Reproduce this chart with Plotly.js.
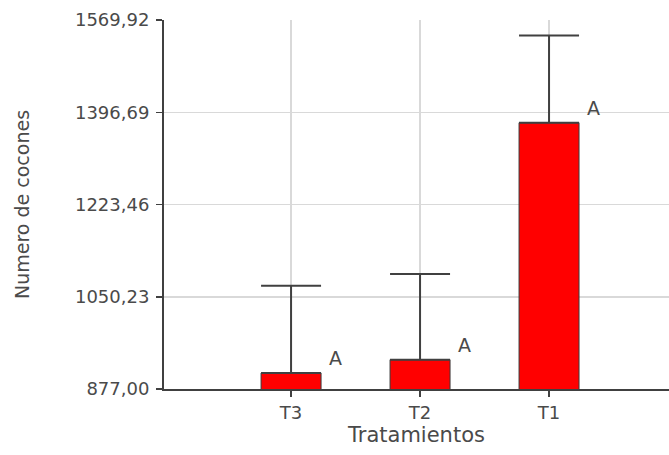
<!DOCTYPE html>
<html>
<head>
<meta charset="utf-8">
<script src="https://cdn.plot.ly/plotly-3.0.1.min.js"></script>
<style>
  html, body { margin: 0; padding: 0; background: #ffffff; }
  #chart { width: 669px; height: 455px; }
</style>
</head>
<body>
<div id="chart"></div>
<script>
// ---- data ----
const categories = ["T3", "T2", "T1"];
const means = [907, 932, 1377];
const errorsUp = [164, 161, 164];
const letters = ["A", "A", "A"];
const yTickVals = [877.00, 1050.23, 1223.46, 1396.69, 1569.92];
const yTickText = ["877,00", "1050,23", "1223,46", "1396,69", "1569,92"];
const xTitle = "Tratamientos";
const yTitle = "Numero de cocones";

const axisColor = "#404040";
const textColor = "#4a4a4a";
const fontFamily = "DejaVu Sans, Arial, sans-serif";

const trace = {
  type: "bar",
  x: categories,
  y: means,
  width: 0.465,
  marker: { color: "#ff0000", line: { color: "#3a3a3a", width: 1 } },
  error_y: {
    type: "data",
    symmetric: false,
    array: errorsUp,
    arrayminus: categories.map(() => 0),
    color: axisColor,
    thickness: 2,
    width: 30
  },
  hoverinfo: "skip"
};

const annotations = categories.map((c, i) => ({
  x: c,
  y: means[i],
  xref: "x",
  yref: "y",
  text: letters[i],
  showarrow: false,
  xshift: 44,
  yshift: 15,
  font: { family: fontFamily, size: 19, color: textColor }
}));

const layout = {
  width: 669,
  height: 455,
  margin: { l: 164, r: 0, t: 20, b: 66 },
  paper_bgcolor: "#ffffff",
  plot_bgcolor: "#ffffff",
  showlegend: false,
  font: { family: fontFamily, color: textColor },
  xaxis: {
    type: "category",
    categoryorder: "array",
    categoryarray: categories,
    range: [-0.985, 2.93],
    showgrid: true,
    gridcolor: "#d9d9d9",
    gridwidth: 1.5,
    showline: true,
    linecolor: axisColor,
    linewidth: 2,
    ticks: "outside",
    ticklen: 6,
    tickwidth: 1.5,
    tickcolor: axisColor,
    tickfont: { family: fontFamily, size: 18, color: textColor },
    title: { text: xTitle, standoff: 0, font: { family: fontFamily, size: 21, color: textColor } },
    zeroline: false,
    fixedrange: true
  },
  yaxis: {
    range: [877.00, 1569.92],
    tickmode: "array",
    tickvals: yTickVals,
    ticktext: yTickText,
    showgrid: true,
    gridcolor: "#d9d9d9",
    gridwidth: 1.5,
    showline: true,
    linecolor: axisColor,
    linewidth: 2,
    ticks: "outside",
    ticklen: 6,
    tickwidth: 1.5,
    tickcolor: axisColor,
    ticklabelstandoff: 3,
    tickfont: { family: fontFamily, size: 18, color: textColor },
    title: { text: yTitle, standoff: 40, font: { family: fontFamily, size: 19, color: textColor } },
    zeroline: false,
    fixedrange: true
  },
  annotations: annotations
};

Plotly.newPlot("chart", [trace], layout, { displayModeBar: false, staticPlot: true });
</script>
</body>
</html>
